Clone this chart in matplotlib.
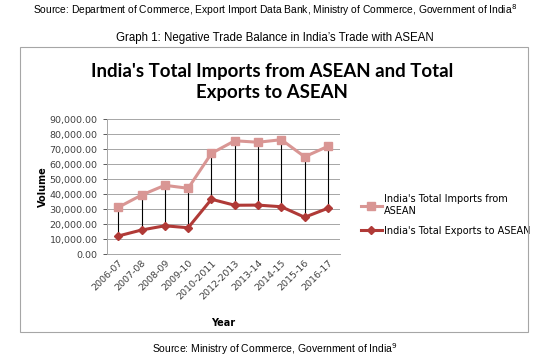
import matplotlib.pyplot as plt
from matplotlib.patches import Rectangle
from matplotlib.ticker import FuncFormatter

years = ["2006-07", "2007-08", "2008-09", "2009-10", "2010-2011",
         "2012-2013", "2013-14", "2014-15", "2015-16", "2016-17"]
imports = [31300, 39500, 46000, 44000, 67300, 75700, 74700, 76400, 65000, 72000]
exports = [12200, 16200, 19000, 17700, 36700, 32700, 32800, 31700, 24700, 30700]

imp_color = "#D99694"
exp_color = "#B03A37"

fig = plt.figure(figsize=(5.5, 3.6), dpi=100)

# header / footer text around the chart box
fig.text(0.5, 1 - 10 / 360, "Source: Department of Commerce, Export Import Data Bank, Ministry of Commerce, Government of India$^{8}$",
         ha="center", va="center", fontsize=7.4, family="Liberation Sans")
fig.text(0.5, 1 - 38 / 360, "Graph 1: Negative Trade Balance in India\u2019s Trade with ASEAN",
         ha="center", va="center", fontsize=8.3, family="Liberation Sans")
fig.text(0.5, 1 - 349 / 360, "Source: Ministry of Commerce, Government of India$^{9}$",
         ha="center", va="center", fontsize=7.5, family="Liberation Sans")

# chart border
fig.patches.append(Rectangle((20 / 550, 1 - 332 / 360), 508 / 550, 285 / 360,
                             transform=fig.transFigure, fill=False,
                             edgecolor="#A6A6A6", linewidth=0.8))

fig.text(272 / 550, 1 - 82 / 360, "India's Total Imports from ASEAN and Total\nExports to ASEAN",
         ha="center", va="center", fontsize=13.4, fontweight="bold",
         family="Lato", linespacing=1.3)

ax = fig.add_axes([106.6 / 550, 1 - 254.3 / 360, 233 / 550, 135 / 360])
x = list(range(len(years)))

ax.vlines(x, exports, imports, color="black", linewidth=0.8, zorder=2)
ax.plot(x, imports, color=imp_color, linewidth=2.2, marker="s", markersize=5.5,
        label="India's Total Imports from\nASEAN", zorder=3)
ax.plot(x, exports, color=exp_color, linewidth=2.2, marker="D", markersize=4,
        label="India's Total Exports to ASEAN", zorder=3)

ax.set_xlim(-0.5, len(years) - 0.5)
ax.set_ylim(0, 90000)
ax.set_yticks(range(0, 90001, 10000))
ax.yaxis.set_major_formatter(FuncFormatter(lambda v, p: f"{v:,.2f}"))
ax.set_xticks(x)
ax.set_xticklabels(years, rotation=45, ha="right", rotation_mode="anchor")
ax.tick_params(axis="both", labelsize=6.8, colors="#404040", length=3, width=0.6)
ax.tick_params(axis="x", length=0, pad=3)
ax.grid(axis="y", color="#A6A6A6", linewidth=0.7)
ax.set_axisbelow(True)
for s in ["top", "right"]:
    ax.spines[s].set_visible(False)
for s in ["left", "bottom"]:
    ax.spines[s].set_color("#A6A6A6")
    ax.spines[s].set_linewidth(0.7)

ax.set_ylabel("Volume", fontsize=7, fontweight="bold", labelpad=1)
ax.set_xlabel("Year", fontsize=7, fontweight="bold", labelpad=10)
ax.xaxis.set_label_coords((223 - 106.6) / 233, (254.3 - 318) / 135)

ax.legend(loc="center left", bbox_to_anchor=((352 - 106.6) / 233, (254.3 - 215) / 135),
          frameon=False, fontsize=7, handlelength=2.2, handletextpad=0.2,
          labelspacing=1.0)

fig.savefig("out.png", dpi=100)
